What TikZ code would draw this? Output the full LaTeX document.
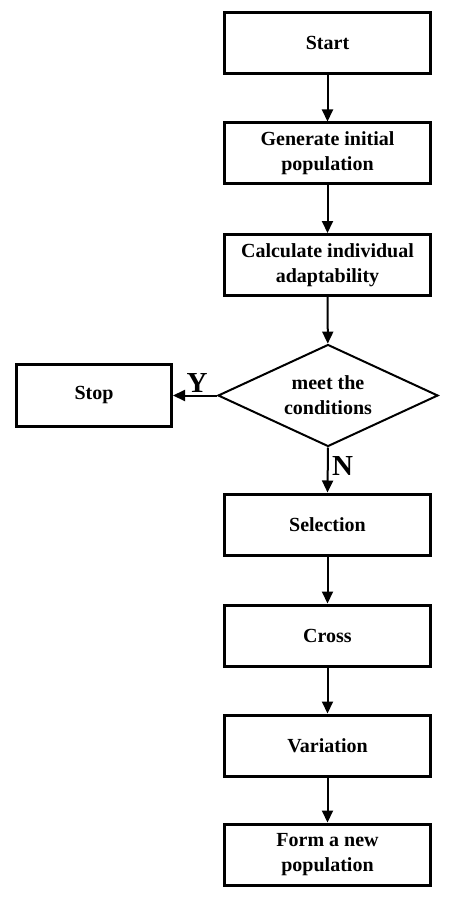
\documentclass[tikz,border=0pt]{standalone}
\usepackage{fontspec}
\setmainfont{Liberation Serif}
\usetikzlibrary{arrows.meta,shapes.geometric}

\begin{document}
\begin{tikzpicture}[x=1pt,y=-1pt,
    box/.style={draw,line width=3pt,minimum width=206pt,minimum height=61pt,
      align=center,font=\bfseries\fontsize{20}{25}\selectfont},
    cond/.style={draw,diamond,line width=2pt,shape aspect=2,inner sep=0pt,
      minimum width=220pt,minimum height=102pt,
      align=center,font=\bfseries\fontsize{20}{25}\selectfont},
    yn/.style={font=\bfseries\fontsize{29}{29}\selectfont}]
      \useasboundingbox (0,0) rectangle (449,904);
      \draw
        (327.5,43) node[box] (0){Start}
        (327.5,153.5) node[box] (1){Generate initial\\population}
        (327.5,265) node[box] (2){Calculate individual\\adaptability}
        (328,395.5) node[cond] (3){meet the\\conditions}
        (94,395.5) node[box,minimum width=155pt,minimum height=62pt] (4){Stop}
        (327.5,524.5) node[box] (5){Selection}
        (327.5,635.5) node[box] (6){Cross}
        (327.5,745.5) node[box] (7){Variation}
        (327.5,854.5) node[box] (8){Form a new\\population};
      \begin{scope}[-{Triangle[length=12pt,width=11pt]},line width=2pt]
        \draw (0) to (1);
        \draw (1) to (2);
        \draw (2) to (3);
        \draw (3.west) to node[yn,above,pos=0.45,yshift=-1pt] {Y} (4.east);
        \draw (3.south) to node[yn,right,pos=0.42] {N} (5.north);
        \draw (5) to (6);
        \draw (6) to (7);
        \draw (7) to (8);
      \end{scope}
    \end{tikzpicture}
\end{document}
